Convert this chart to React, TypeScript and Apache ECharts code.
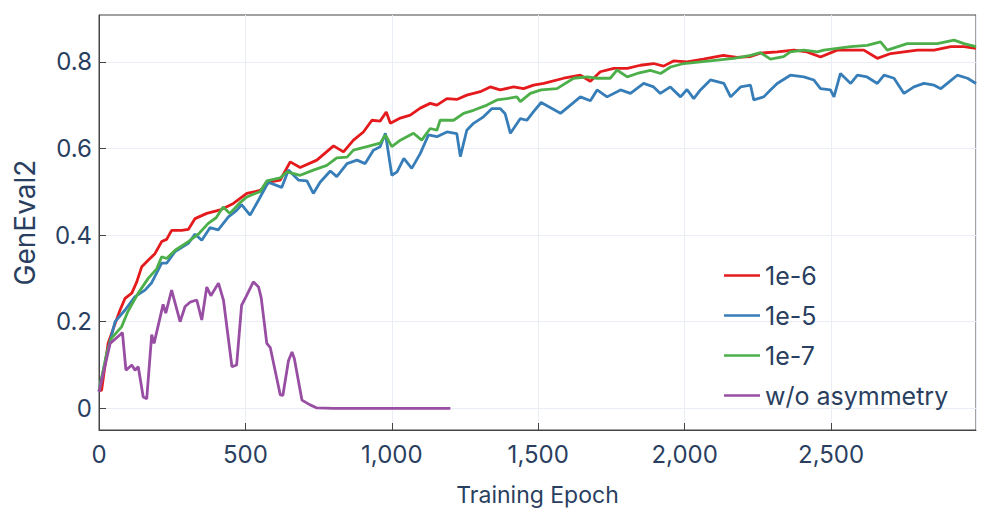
import { useRef, useEffect } from 'react';
import * as echarts from 'echarts';

// 1e-6
const redEpochs = [0, 9, 31, 55, 72, 89, 112, 129, 146, 168, 191, 214, 231, 248, 282, 305, 328, 368, 414, 459, 505, 550, 584, 619, 653, 687, 744, 801, 835, 869, 903, 932, 960, 981, 995, 1029, 1063, 1097, 1131, 1154, 1188, 1222, 1256, 1302, 1336, 1370, 1416, 1450, 1484, 1519, 1587, 1644, 1678, 1712, 1758, 1804, 1849, 1894, 1928, 1962, 2008, 2064, 2132, 2178, 2223, 2259, 2316, 2373, 2418, 2464, 2521, 2567, 2612, 2658, 2704, 2749, 2795, 2852, 2909, 2954, 2995];
const redValues = [0.04, 0.042, 0.15, 0.196, 0.227, 0.254, 0.266, 0.292, 0.327, 0.342, 0.357, 0.385, 0.39, 0.411, 0.411, 0.413, 0.438, 0.45, 0.458, 0.473, 0.496, 0.503, 0.523, 0.527, 0.569, 0.556, 0.573, 0.606, 0.592, 0.619, 0.638, 0.665, 0.663, 0.684, 0.658, 0.67, 0.677, 0.693, 0.704, 0.7, 0.715, 0.713, 0.723, 0.731, 0.742, 0.735, 0.742, 0.738, 0.746, 0.75, 0.762, 0.769, 0.755, 0.777, 0.785, 0.785, 0.792, 0.796, 0.79, 0.802, 0.8, 0.806, 0.815, 0.81, 0.812, 0.82, 0.823, 0.827, 0.823, 0.811, 0.827, 0.827, 0.827, 0.808, 0.819, 0.823, 0.827, 0.827, 0.835, 0.835, 0.831];

// 1e-5
const blueEpochs = [0, 32, 55, 89, 123, 157, 180, 214, 231, 260, 305, 328, 351, 379, 407, 442, 470, 487, 516, 545, 578, 624, 647, 681, 710, 732, 755, 790, 812, 847, 881, 909, 937, 960, 978, 1000, 1018, 1041, 1068, 1097, 1125, 1154, 1188, 1222, 1234, 1256, 1279, 1313, 1342, 1370, 1387, 1405, 1439, 1461, 1484, 1510, 1576, 1644, 1678, 1701, 1735, 1781, 1815, 1860, 1894, 1917, 1951, 1986, 2008, 2031, 2054, 2088, 2134, 2157, 2191, 2225, 2236, 2270, 2293, 2316, 2361, 2407, 2441, 2464, 2498, 2510, 2532, 2567, 2590, 2623, 2658, 2681, 2715, 2749, 2783, 2817, 2852, 2875, 2897, 2931, 2966, 2995];
const blueValues = [0.04, 0.14, 0.2, 0.227, 0.258, 0.273, 0.29, 0.335, 0.335, 0.362, 0.381, 0.402, 0.388, 0.417, 0.412, 0.442, 0.457, 0.47, 0.446, 0.481, 0.522, 0.51, 0.55, 0.527, 0.525, 0.496, 0.522, 0.548, 0.535, 0.565, 0.573, 0.565, 0.596, 0.604, 0.635, 0.538, 0.546, 0.577, 0.554, 0.588, 0.631, 0.627, 0.638, 0.634, 0.581, 0.642, 0.658, 0.673, 0.692, 0.692, 0.68, 0.635, 0.669, 0.665, 0.685, 0.706, 0.681, 0.719, 0.71, 0.735, 0.719, 0.735, 0.727, 0.75, 0.742, 0.727, 0.742, 0.719, 0.736, 0.715, 0.735, 0.758, 0.75, 0.719, 0.742, 0.746, 0.712, 0.719, 0.735, 0.75, 0.769, 0.765, 0.758, 0.738, 0.735, 0.719, 0.773, 0.75, 0.769, 0.765, 0.75, 0.769, 0.762, 0.727, 0.742, 0.75, 0.746, 0.738, 0.75, 0.769, 0.762, 0.75];

// 1e-7
const greenEpochs = [0, 26, 43, 77, 99, 134, 168, 197, 214, 231, 260, 305, 339, 373, 400, 424, 447, 482, 505, 533, 550, 573, 619, 642, 687, 732, 778, 812, 847, 869, 915, 960, 978, 1000, 1029, 1074, 1102, 1131, 1154, 1165, 1211, 1245, 1279, 1325, 1359, 1393, 1427, 1439, 1473, 1510, 1564, 1621, 1667, 1700, 1746, 1769, 1804, 1838, 1883, 1918, 1952, 1997, 2054, 2111, 2168, 2202, 2225, 2259, 2293, 2338, 2361, 2407, 2453, 2475, 2521, 2567, 2623, 2669, 2692, 2760, 2817, 2863, 2920, 2954, 2995];
const greenValues = [0.04, 0.127, 0.162, 0.188, 0.224, 0.266, 0.3, 0.322, 0.35, 0.346, 0.365, 0.385, 0.402, 0.427, 0.44, 0.465, 0.45, 0.475, 0.488, 0.496, 0.5, 0.525, 0.532, 0.546, 0.538, 0.55, 0.561, 0.578, 0.58, 0.596, 0.604, 0.612, 0.631, 0.604, 0.619, 0.635, 0.619, 0.646, 0.642, 0.665, 0.665, 0.681, 0.688, 0.7, 0.712, 0.715, 0.719, 0.708, 0.727, 0.735, 0.738, 0.762, 0.765, 0.762, 0.762, 0.781, 0.765, 0.773, 0.78, 0.773, 0.788, 0.796, 0.8, 0.804, 0.808, 0.812, 0.815, 0.821, 0.806, 0.812, 0.823, 0.827, 0.823, 0.827, 0.831, 0.835, 0.838, 0.846, 0.827, 0.842, 0.842, 0.842, 0.85, 0.842, 0.835];

// w/o asymmetry
const purpleEpochs = [0, 38, 72, 80, 92, 112, 123, 134, 151, 163, 180, 188, 219, 228, 248, 277, 294, 311, 334, 351, 368, 382, 408, 425, 454, 470, 487, 504, 527, 545, 554, 573, 585, 619, 628, 647, 659, 667, 693, 721, 744, 800, 1200];
const purpleValues = [0.038, 0.15, 0.17, 0.175, 0.088, 0.1, 0.088, 0.096, 0.026, 0.022, 0.17, 0.15, 0.24, 0.22, 0.273, 0.2, 0.235, 0.245, 0.25, 0.204, 0.28, 0.26, 0.289, 0.25, 0.096, 0.1, 0.238, 0.26, 0.292, 0.28, 0.255, 0.15, 0.14, 0.031, 0.03, 0.11, 0.13, 0.115, 0.019, 0.008, 0.001, 0, 0];

const seriesNames = ['1e-6', '1e-5', '1e-7', 'w/o asymmetry'];
const seriesColors = ['#e41a1c', '#377eb8', '#4daf4a', '#984ea3'];
const yTicks = [0, 0.2, 0.4, 0.6, 0.8];

const textColor = '#2a3f5f';
const font = 'Inter, "Noto Sans", sans-serif';

const zip = (xs: number[], ys: number[]) => xs.map((x, i) => [x, ys[i]]);

export default function App() {
  const chartRef = useRef<HTMLDivElement>(null);

  useEffect(() => {
    document.body.style.margin = '0';
    if (!chartRef.current) return;
    const chart = echarts.init(chartRef.current, undefined, { renderer: 'svg' });

    const allData = [
      zip(redEpochs, redValues),
      zip(blueEpochs, blueValues),
      zip(greenEpochs, greenValues),
      zip(purpleEpochs, purpleValues),
    ];

    chart.setOption({
      animation: false,
      backgroundColor: '#ffffff',
      textStyle: { fontFamily: font },
      grid: {
        left: 99,
        right: 20,
        top: 15,
        bottom: 93,
        show: true,
        borderColor: '#444',
        borderWidth: 1,
      },
      legend: {
        orient: 'vertical',
        left: 724,
        top: 263,
        padding: 0,
        icon: 'rect',
        itemWidth: 36,
        itemHeight: 2.5,
        itemGap: 15,
        data: seriesNames,
        textStyle: { color: textColor, fontSize: 25, fontFamily: font },
      },
      xAxis: {
        type: 'value',
        min: 0,
        max: 2995,
        interval: 500,
        name: 'Training Epoch',
        nameLocation: 'middle',
        nameGap: 53,
        nameTextStyle: { color: textColor, fontSize: 23, fontFamily: font },
        axisLine: { show: true, onZero: false, lineStyle: { color: '#444', width: 1 } },
        axisTick: { show: true, inside: true, length: 7, lineStyle: { color: '#444' } },
        axisLabel: {
          color: textColor,
          fontSize: 24,
          fontFamily: font,
          margin: 12,
          showMaxLabel: false,
          formatter: (v: number) => v.toLocaleString('en-US'),
        },
        splitLine: { show: true, lineStyle: { color: '#e9eef5', width: 1 } },
      },
      yAxis: {
        type: 'value',
        min: -0.05,
        max: 0.908,
        name: 'GenEval2',
        nameLocation: 'middle',
        nameGap: 60,
        nameTextStyle: { color: textColor, fontSize: 28, fontFamily: font },
        axisLine: { show: true, onZero: false, lineStyle: { color: '#444', width: 1 } },
        axisTick: { show: true, inside: true, length: 7, customValues: yTicks, lineStyle: { color: '#444' } },
        axisLabel: {
          color: textColor,
          fontSize: 24,
          fontFamily: font,
          margin: 7,
          customValues: yTicks,
          formatter: (v: number) => String(Number(v.toFixed(1))),
        },
        splitLine: { show: true, lineStyle: { color: '#e9eef5', width: 1 } },
      },
      series: allData.map((data, i) => ({
        name: seriesNames[i],
        type: 'line',
        data,
        symbol: 'none',
        showSymbol: false,
        lineStyle: { color: seriesColors[i], width: 2.8 },
        itemStyle: { color: seriesColors[i] },
      })),
    });

    const handleResize = () => chart.resize();
    window.addEventListener('resize', handleResize);
    return () => {
      window.removeEventListener('resize', handleResize);
      chart.dispose();
    };
  }, []);

  return <div ref={chartRef} style={{ width: 996, height: 523 }} />;
}
